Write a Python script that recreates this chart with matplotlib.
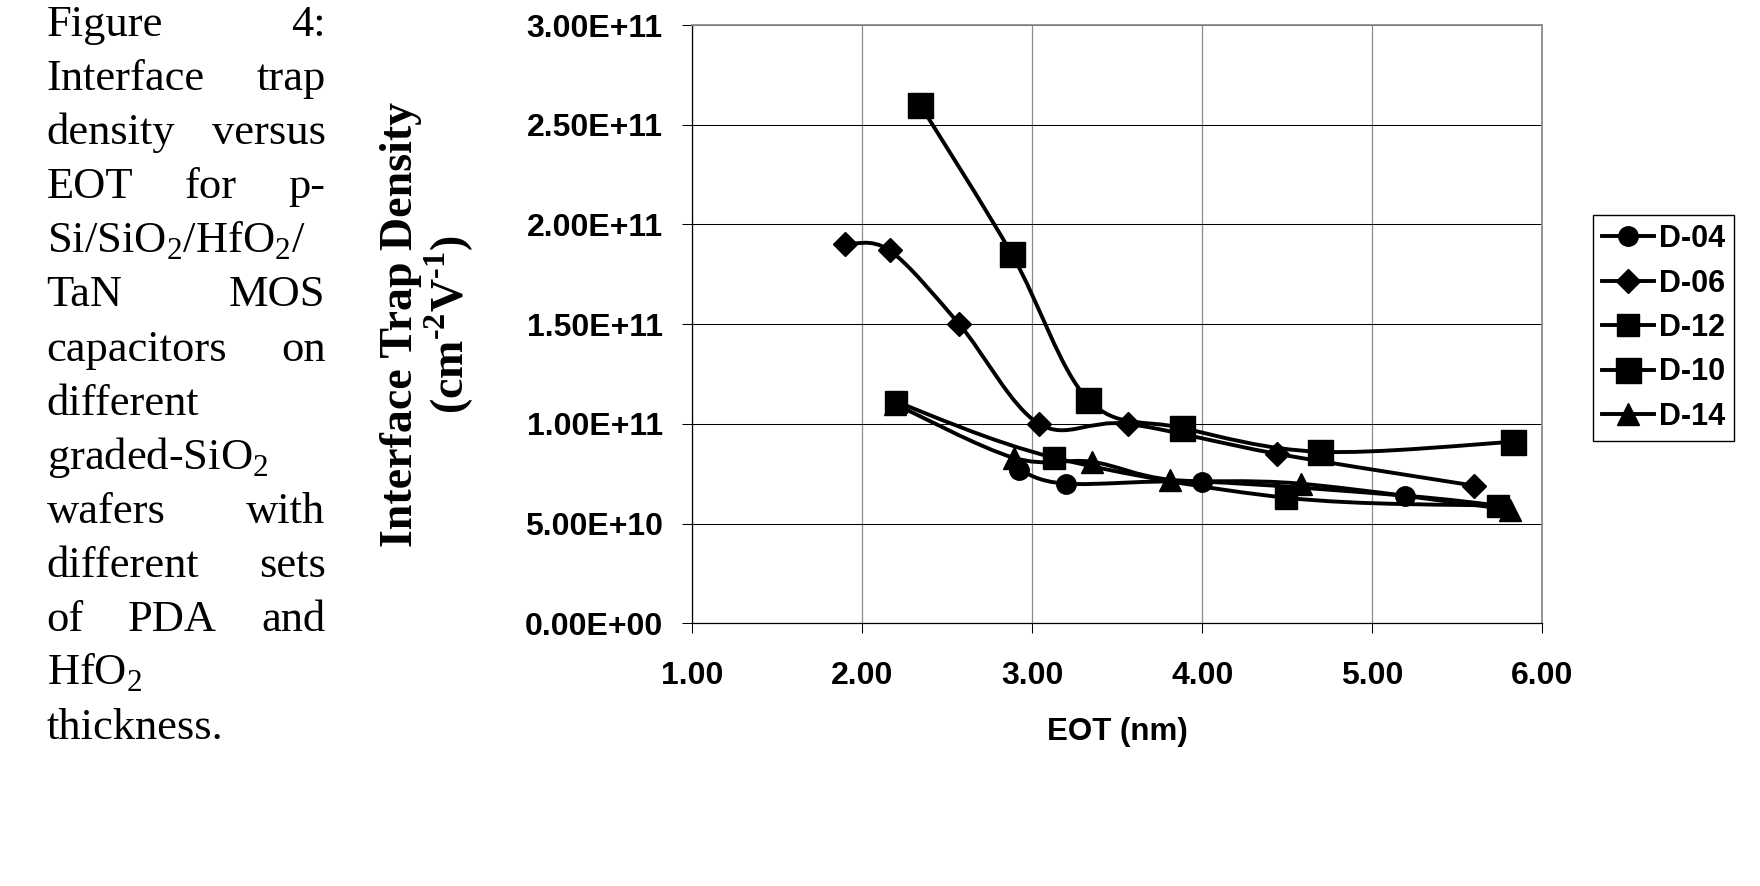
import matplotlib
matplotlib.use("Agg")
import matplotlib.pyplot as plt
import numpy as np
from matplotlib.lines import Line2D
from matplotlib.patches import PathPatch
from matplotlib.path import Path
from matplotlib.ticker import FuncFormatter, MultipleLocator

# --- data (EOT in nm, Dit in cm^-2 V^-1) ---
eot_d04 = [2.92, 3.20, 4.00, 5.19, 5.75]
dit_d04 = [0.77e11, 0.70e11, 0.71e11, 0.64e11, 0.59e11]

eot_d06 = [1.90, 2.16, 2.57, 3.04, 3.56, 4.44, 5.60]
dit_d06 = [1.90e11, 1.87e11, 1.50e11, 1.00e11, 1.00e11, 0.85e11, 0.69e11]

eot_d12 = [2.20, 3.13, 4.49, 5.74]
dit_d12 = [1.11e11, 0.83e11, 0.63e11, 0.59e11]

eot_d10 = [2.34, 2.88, 3.33, 3.88, 4.69, 5.83]
dit_d10 = [2.60e11, 1.85e11, 1.12e11, 0.98e11, 0.86e11, 0.91e11]

eot_d14 = [2.19, 2.89, 3.35, 3.81, 4.58, 5.81]
dit_d14 = [1.10e11, 0.83e11, 0.81e11, 0.72e11, 0.70e11, 0.57e11]

labels = ["D-04", "D-06", "D-12", "D-10", "D-14"]

caption_lines = [
    ("Figure 4:", True),
    ("Interface trap", True),
    ("density versus", True),
    ("EOT for p-", True),
    ("Si/SiO$_\\mathregular{2}$/HfO$_\\mathregular{2}$/", False),
    ("TaN MOS", True),
    ("capacitors on", True),
    ("different", False),
    ("graded-SiO$_\\mathregular{2}$", False),
    ("wafers with", True),
    ("different sets", True),
    ("of PDA and", True),
    ("HfO$_\\mathregular{2}$", False),
    ("thickness.", False),
]

W, H = 1760, 886
SANS = "Liberation Sans"
SERIF = "Liberation Serif"


def smooth_path(xs, ys):
    """Excel-style smoothed line: cubic Bezier through the points."""
    pts = np.column_stack([xs, ys]).astype(float)
    n = len(pts)
    verts = [pts[0]]
    codes = [Path.MOVETO]
    for i in range(n - 1):
        p0 = pts[i - 1] if i > 0 else pts[i]
        p1, p2 = pts[i], pts[i + 1]
        p3 = pts[i + 2] if i + 2 < n else pts[i + 1]
        verts += [p1 + (p2 - p0) / 6, p2 - (p3 - p1) / 6, p2]
        codes += [Path.CURVE4] * 3
    return Path(verts, codes)


fig = plt.figure(figsize=(W / 100, H / 100), dpi=100)
ax = fig.add_axes([692.3 / W, 1 - 623.3 / H, 850 / W, 598.3 / H])

series = [
    (eot_d04, dit_d04, "o", 14),
    (eot_d06, dit_d06, "D", 12),
    (eot_d12, dit_d12, "s", 15.5),
    (eot_d10, dit_d10, "s", 18),
    (eot_d14, dit_d14, "^", 16),
]
handles = []
for (x, y, mk, ms), lab in zip(series, labels):
    ax.add_patch(PathPatch(smooth_path(x, y), fill=False, edgecolor="black",
                           lw=2.8, transform=ax.transData, zorder=3))
    ax.plot(x, y, ls="none", marker=mk, ms=ms, color="black", zorder=4)
    handles.append(Line2D([], [], color="black", lw=2.8, marker=mk, ms=ms))

ax.set_xlim(1, 6)
ax.set_ylim(0, 3e11)
ax.xaxis.set_major_locator(MultipleLocator(1))
ax.yaxis.set_major_locator(MultipleLocator(0.5e11))
ax.xaxis.set_major_formatter(FuncFormatter(lambda v, p: f"{v:.2f}"))
ax.yaxis.set_major_formatter(FuncFormatter(lambda v, p: f"{v:.2E}"))

ax.set_axisbelow(True)
ax.yaxis.grid(True, color="black", lw=0.75)
ax.xaxis.grid(True, color="#8c8c8c", lw=0.9)
for s in ("left", "bottom"):
    ax.spines[s].set_color("black")
    ax.spines[s].set_linewidth(0.9)
for s in ("top", "right"):
    ax.spines[s].set_color("#8c8c8c")
    ax.spines[s].set_linewidth(1.3)

ax.tick_params(axis="both", direction="out", length=7.2, width=0.75,
               color="black")
ax.tick_params(axis="y", pad=14)
ax.tick_params(axis="x", pad=20)
for t in ax.get_xticklabels() + ax.get_yticklabels():
    t.set_fontfamily(SANS)
    t.set_fontweight("bold")
    t.set_fontsize(23)

ax.set_xlabel("EOT (nm)", fontfamily=SANS, fontweight="bold", fontsize=22.5)
ax.xaxis.set_label_coords(0.5, -0.156)
ax.set_ylabel("Interface Trap Density\n(cm$^{\\mathregular{\u20102}}$"
              "V$^{\\mathregular{\u20101}}$)",
              fontfamily=SERIF, fontweight="bold", fontsize=33,
              linespacing=1.0)
ax.yaxis.set_label_coords(-0.255, 0.5)

leg = fig.legend(handles, labels, loc="upper left",
                 bbox_to_anchor=(1593 / W, 1 - 215 / H),
                 bbox_transform=fig.transFigure, borderaxespad=0,
                 prop=dict(family=SANS, weight="bold", size=22),
                 handlelength=1.7, handletextpad=0.15, labelspacing=0.47,
                 borderpad=0.3, fancybox=False, framealpha=1)
leg.get_frame().set_edgecolor("black")
leg.get_frame().set_linewidth(1.0)

# --- justified caption on the left ---
x_left, x_right = 46.5, 325.5
cap_kw = dict(fontfamily=SERIF, fontsize=32, va="baseline")
renderer = fig.canvas.get_renderer()
for i, (line, justify) in enumerate(caption_lines):
    yb = 1 - (36 + 54.1 * i) / H
    words = line.split(" ")
    if not justify or len(words) == 1:
        fig.text(x_left / W, yb, line, ha="left", **cap_kw)
        continue
    first = fig.text(x_left / W, yb, words[0], ha="left", **cap_kw)
    last = fig.text(x_right / W, yb, words[-1], ha="right", **cap_kw)
    if len(words) == 3:
        w0 = first.get_window_extent(renderer).x1
        w2 = last.get_window_extent(renderer).x0
        fig.text((w0 + w2) / 2 / W, yb, words[1], ha="center", **cap_kw)

fig.savefig("out.png", dpi=100)
